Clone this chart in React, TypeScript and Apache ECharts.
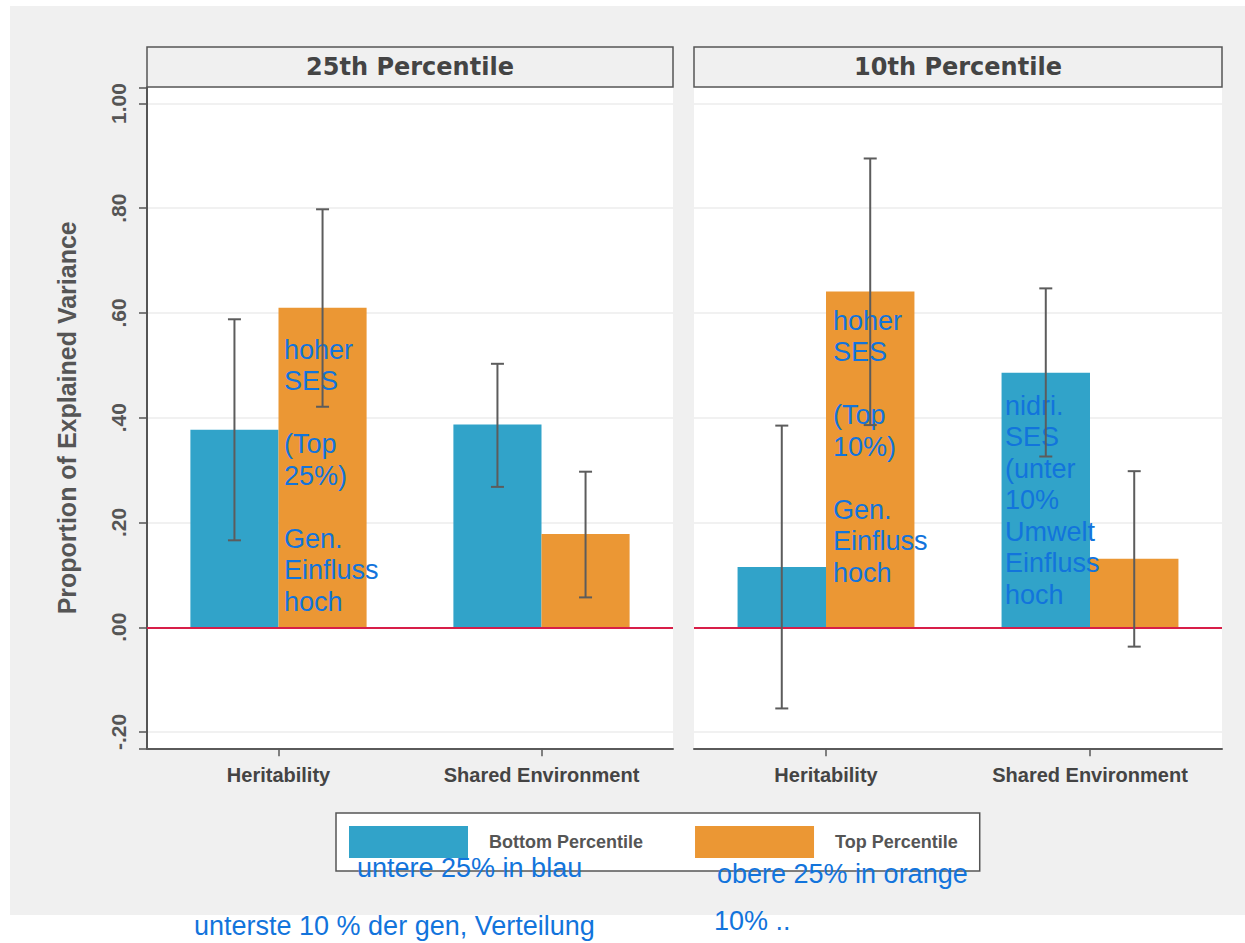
import React, { useEffect, useRef } from "react";
import * as echarts from "echarts";

const categories = ["Heritability", "Shared Environment"];
const panelTitles = ["25th Percentile", "10th Percentile"];
const seriesNames = ["Bottom Percentile", "Top Percentile"];

// 25th percentile panel
const p25Bottom = [0.377, 0.387];
const p25Top = [0.61, 0.178];
const p25BottomLow = [0.166, 0.268];
const p25BottomHigh = [0.588, 0.503];
const p25TopLow = [0.421, 0.057];
const p25TopHigh = [0.798, 0.297];

// 10th percentile panel
const p10Bottom = [0.115, 0.486];
const p10Top = [0.641, 0.131];
const p10BottomLow = [-0.155, 0.326];
const p10BottomHigh = [0.385, 0.647];
const p10TopLow = [0.386, -0.037];
const p10TopHigh = [0.895, 0.298];

const Y_MIN = -0.2311;
const Y_MAX = 1.0309;

const annotations = [
  { x: 284, y: 334, text: "hoher\nSES\n\n(Top\n25%)\n\nGen.\nEinfluss\nhoch" },
  { x: 833, y: 305, text: "hoher\nSES\n\n(Top\n10%)\n\nGen.\nEinfluss\nhoch" },
  { x: 1005, y: 390, text: "nidri.\nSES\n(unter\n10%\nUmwelt\nEinfluss\nhoch" },
  { x: 357, y: 868, text: "untere 25% in blau", mid: true },
  { x: 717, y: 874, text: "obere 25% in orange", mid: true },
  { x: 194, y: 926, text: "unterste 10 % der gen, Verteilung", mid: true },
  { x: 714, y: 921, text: "10% ..", mid: true },
];

const BLUE = "#31a3c9";
const ORANGE = "#eb9734";
const GAP = 0.33;

function fmt(v: number) {
  if (Math.abs(v * 5 - Math.round(v * 5)) > 1e-6) return "";
  return v.toFixed(2).replace(/^(-?)0\./, "$1.");
}

function errSeries(gridIdx: number, lows: number[][], highs: number[][]) {
  const data: number[][] = [];
  for (let s = 0; s < 2; s++) {
    for (let c = 0; c < categories.length; c++) {
      data.push([c, lows[s][c], highs[s][c], s]);
    }
  }
  return {
    type: "custom",
    xAxisIndex: gridIdx,
    yAxisIndex: gridIdx,
    z: 10,
    data,
    renderItem: (params: any, api: any) => {
      const c = api.value(0);
      const lo = api.value(1);
      const hi = api.value(2);
      const s = api.value(3);
      const catW = api.size([1, 0])[0];
      const bw = (catW * (1 - GAP)) / 2;
      const x = api.coord([c, 0])[0] + (s === 0 ? -bw / 2 : bw / 2);
      const yLo = api.coord([c, lo])[1];
      const yHi = api.coord([c, hi])[1];
      const cap = 6.5;
      const style = { stroke: "#5c5c5c", lineWidth: 2 };
      return {
        type: "group",
        children: [
          { type: "line", shape: { x1: x, y1: yHi, x2: x, y2: yLo }, style },
          { type: "line", shape: { x1: x - cap, y1: yHi, x2: x + cap, y2: yHi }, style },
          { type: "line", shape: { x1: x - cap, y1: yLo, x2: x + cap, y2: yLo }, style },
        ],
      };
    },
  };
}

export default function App() {
  const ref = useRef<HTMLDivElement>(null);
  useEffect(() => {
    if (!ref.current) return;
    const chart = echarts.init(ref.current, null, { renderer: "svg" });
    const grids = [
      { left: 147, top: 87.3, width: 526, height: 661 },
      { left: 694, top: 87.3, width: 528, height: 661 },
    ];
    const labelFont = "Liberation Sans";
    const xAxes = grids.map((_, i) => ({
      gridIndex: i,
      type: "category",
      data: categories,
      axisLine: { show: true, onZero: false, lineStyle: { color: "#5a5a5a", width: 2 } },
      axisTick: { show: true, alignWithLabel: true, length: 8, lineStyle: { color: "#5a5a5a", width: 1.5 } },
      axisLabel: { margin: 17, fontFamily: labelFont, fontWeight: "bold", fontSize: 20, color: "#444" },
    }));
    const yAxes = grids.map((_, i) => ({
      gridIndex: i,
      type: "value",
      min: Y_MIN,
      max: Y_MAX,
      splitNumber: 6,
      axisLine: { show: i === 0, lineStyle: { color: "#555", width: 2 } },
      axisTick: { show: i === 0, length: 8, lineStyle: { color: "#555", width: 1.5 } },
      axisLabel: {
        show: i === 0,
        rotate: 90,
        margin: 18,
        fontFamily: labelFont,
        fontWeight: "bold",
        fontSize: 21,
        color: "#555",
        formatter: fmt,
      },
      splitLine: { show: true, showMinLine: false, showMaxLine: false, lineStyle: { color: "#ededed", width: 1.5 } },
      name: i === 0 ? "Proportion of Explained Variance" : "",
      nameLocation: "middle",
      nameGap: 68,
      nameTextStyle: { fontFamily: labelFont, fontWeight: "bold", fontSize: 25, color: "#555" },
    }));
    const zeroLine = {
      silent: true,
      symbol: "none",
      data: [{ yAxis: 0 }],
      lineStyle: { color: "#d81e48", width: 2, type: "solid" },
      label: { show: false },
    };
    const barSeries = (gi: number, name: string, data: number[], color: string, withZero: boolean) => ({
      type: "bar",
      name,
      xAxisIndex: gi,
      yAxisIndex: gi,
      data,
      barGap: "0%",
      barCategoryGap: "33%",
      itemStyle: { color },
      z: 2,
      ...(withZero ? { markLine: zeroLine } : {}),
    });
    const graphic: any[] = [
      { type: "rect", z: -100, shape: { x: 10, y: 6, width: 1235, height: 909 }, style: { fill: "#f0f0f0" } },
    ];
    grids.forEach((g, i) => {
      graphic.push({
        type: "rect",
        z: 1,
        shape: { x: g.left, y: 47, width: g.width, height: 40 },
        style: { fill: "#f0f0f0", stroke: "#555", lineWidth: 1.5 },
      });
      graphic.push({
        type: "text",
        z: 2,
        x: g.left + g.width / 2,
        y: 67,
        style: {
          text: panelTitles[i],
          fontFamily: "DejaVu Sans",
          fontWeight: "bold",
          fontSize: 24,
          fill: "#444",
          align: "center",
          verticalAlign: "middle",
        },
      });
    });
    annotations.forEach((a) => {
      graphic.push({
        type: "text",
        z: 8,
        x: a.x,
        y: a.y,
        style: {
          text: a.text,
          fontFamily: "Liberation Sans",
          fontSize: 27,
          lineHeight: 31.5,
          fill: "#1274dc",
          align: "left",
          verticalAlign: a.mid ? "middle" : "top",
        },
      });
    });
    chart.setOption({
      animation: false,
      grid: grids.map((g) => ({ ...g, show: true, backgroundColor: "#ffffff", borderWidth: 0 })),
      xAxis: xAxes,
      yAxis: yAxes,
      legend: {
        data: seriesNames,
        left: 336,
        top: 813,
        orient: "horizontal",
        icon: "rect",
        itemWidth: 119,
        itemHeight: 32,
        itemGap: 52,
        padding: [13, 22, 13, 13],
        backgroundColor: "#ffffff",
        borderColor: "#555",
        borderWidth: 1.5,
        borderRadius: 0,
        textStyle: { fontFamily: labelFont, fontWeight: "bold", fontSize: 18, color: "#555", padding: [0, 0, 0, 16] },
      },
      series: [
        barSeries(0, seriesNames[0], p25Bottom, BLUE, true),
        barSeries(0, seriesNames[1], p25Top, ORANGE, false),
        barSeries(1, seriesNames[0], p10Bottom, BLUE, true),
        barSeries(1, seriesNames[1], p10Top, ORANGE, false),
        errSeries(0, [p25BottomLow, p25TopLow], [p25BottomHigh, p25TopHigh]),
        errSeries(1, [p10BottomLow, p10TopLow], [p10BottomHigh, p10TopHigh]),
      ],
      graphic,
    });
    return () => chart.dispose();
  }, []);
  return (
    <div
      ref={ref}
      style={{ position: "absolute", left: 0, top: 0, width: 1245, height: 943, background: "#ffffff" }}
    />
  );
}
